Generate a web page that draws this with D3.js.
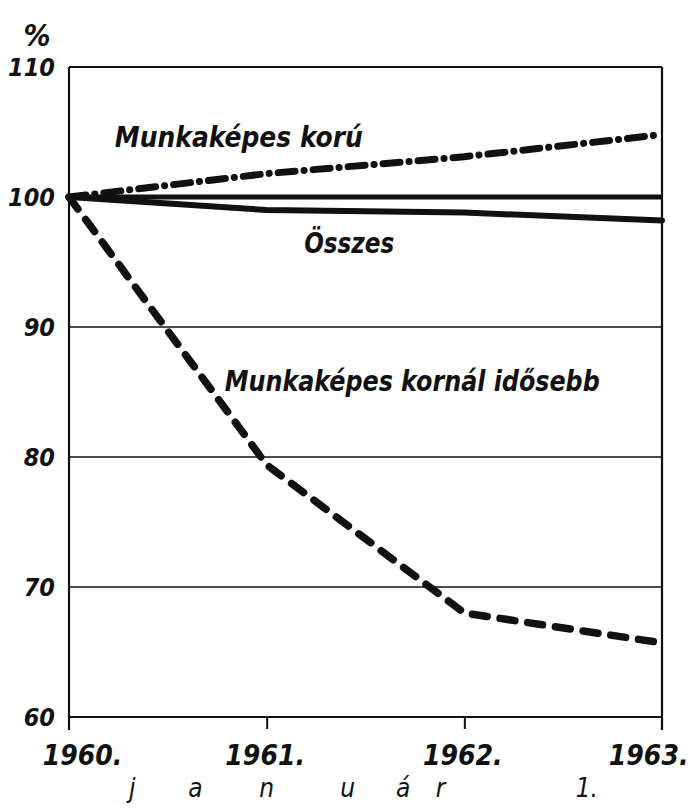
<!DOCTYPE html>
<html>
<head>
<meta charset="utf-8">
<script src="https://cdn.jsdelivr.net/npm/d3@7/dist/d3.min.js"></script>
<style>
  html, body { margin: 0; padding: 0; background: #fff; }
  svg { display: block; }
  text { font-family: "DejaVu Sans Condensed", "DejaVu Sans", sans-serif; font-stretch: condensed; font-style: oblique; font-weight: bold; fill: #111; }
</style>
</head>
<body>
<script>
// ---- data ----
const years = [1960, 1961, 1962, 1963];
const yearLabels = ["1960.", "1961.", "1962.", "1963."];
const munkakepesKoru = [100, 101.8, 103.1, 104.8];
const osszes = [100, 99.0, 98.8, 98.2];
const idosebb = [100, 79.4, 68.0, 65.7];
const yTicks = [60, 70, 80, 90, 100, 110];
const seriesNames = ["Munkaképes korú", "Összes", "Munkaképes kornál idősebb"];
const subtitleLetters = ["j", "a", "n", "u", "á", "r", "1."];

// ---- layout ----
const W = 698, H = 808;
const margin = { top: 67, right: 36, bottom: 91, left: 69 };
const innerW = W - margin.left - margin.right;
const innerH = H - margin.top - margin.bottom;
const FONT = '"DejaVu Sans Condensed", "DejaVu Sans", sans-serif';

const svg = d3.select("body").append("svg").attr("width", W).attr("height", H);
const g = svg.append("g").attr("transform", `translate(${margin.left},${margin.top})`);

const x = d3.scaleLinear().domain([1960, 1963]).range([0, innerW]);
const y = d3.scaleLinear().domain([60, 110]).range([innerH, 0]);

// gridlines
g.selectAll("line.grid").data(yTicks).join("line")
  .attr("class", "grid")
  .attr("x1", 0).attr("x2", innerW)
  .attr("y1", d => y(d)).attr("y2", d => y(d))
  .attr("stroke", "#111")
  .attr("stroke-width", d => d === 100 ? 5 : (d === 60 || d === 110 ? 2 : 1.5));

// left and right axis lines (extend below)
g.append("line").attr("x1", x(1960)).attr("x2", x(1960)).attr("y1", y(110)).attr("y2", innerH + 13)
  .attr("stroke", "#111").attr("stroke-width", 2.2);
g.append("line").attr("x1", x(1963)).attr("x2", x(1963)).attr("y1", y(110)).attr("y2", innerH + 13)
  .attr("stroke", "#111").attr("stroke-width", 2.2);

// x axis ticks (downward) and labels
const xAxis = d3.axisBottom(x).tickValues(years).tickSize(12).tickPadding(11)
  .tickFormat((d, i) => yearLabels[i]);
const xg = g.append("g").attr("transform", `translate(0,${innerH})`).call(xAxis);
xg.select(".domain").remove();
xg.selectAll(".tick line").attr("stroke", "#111").attr("stroke-width", 2)
  .attr("y2", (d, i) => (i === 1 || i === 2) ? 12 : 0);
xg.selectAll(".tick text")
  .attr("font-size", 28).attr("fill", "#111")
  .attr("dy", "0.88em")
  .attr("text-anchor", (d, i) => i === 3 ? "end" : "middle")
  .attr("dx", (d, i) => i === 0 ? 13 : (i === 3 ? 26 : -2))
  .style("font-family", FONT).style("font-style", "oblique").style("font-weight", "bold");

// y axis labels
const yAxis = d3.axisLeft(y).tickValues(yTicks).tickSize(0).tickPadding(14).tickFormat(d3.format("d"));
const yg = g.append("g").call(yAxis);
yg.select(".domain").remove();
yg.selectAll(".tick text")
  .attr("font-size", 25).attr("fill", "#111")
  .style("font-family", FONT).style("font-style", "oblique").style("font-weight", "bold");

// percent sign
svg.append("text").attr("x", 37).attr("y", 46).attr("text-anchor", "middle")
  .attr("font-size", 30).text("%");

// lines
const line = d3.line().x((d, i) => x(years[i])).y(d => y(d)).curve(d3.curveLinear);

g.append("path").datum(osszes).attr("d", line)
  .attr("fill", "none").attr("stroke", "#111").attr("stroke-width", 6)
  .attr("stroke-linejoin", "round").attr("stroke-linecap", "round");

g.append("path").datum(munkakepesKoru).attr("d", line)
  .attr("fill", "none").attr("stroke", "#111").attr("stroke-width", 7)
  .attr("stroke-dasharray", "17 9 0.1 9")
  .attr("stroke-linejoin", "round").attr("stroke-linecap", "round");

g.append("path").datum(idosebb).attr("d", line)
  .attr("fill", "none").attr("stroke", "#111").attr("stroke-width", 7.5)
  .attr("stroke-dasharray", "15 13")
  .attr("stroke-linejoin", "round").attr("stroke-linecap", "round");

// series labels
const labelPos = [
  { yr: 1960.232, v: 103.85, len: 248 },
  { yr: 1961.19, v: 95.7, len: 90 },
  { yr: 1960.788, v: 85.1, len: 375 }
];
g.selectAll("text.series").data(seriesNames).join("text")
  .attr("class", "series")
  .attr("x", (d, i) => x(labelPos[i].yr))
  .attr("y", (d, i) => y(labelPos[i].v))
  .attr("font-size", 28)
  .attr("textLength", (d, i) => labelPos[i].len)
  .attr("lengthAdjust", "spacingAndGlyphs")
  .text(d => d);

// "j a n u á r 1." subtitle
const letterYears = [1960.32, 1960.64, 1961.0, 1961.41, 1961.69, 1961.88, 1962.62];
g.selectAll("text.sub").data(subtitleLetters).join("text")
  .attr("class", "sub")
  .attr("x", (d, i) => x(letterYears[i]))
  .attr("y", innerH + 80)
  .attr("text-anchor", "middle")
  .attr("font-size", 26)
  .style("font-weight", "normal")
  .text(d => d);
</script>
</body>
</html>
